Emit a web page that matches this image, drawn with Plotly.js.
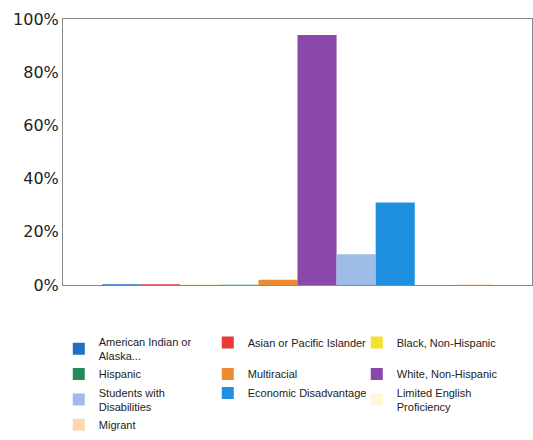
<!DOCTYPE html>
<html>
<head>
<meta charset="utf-8">
<script src="https://cdn.plot.ly/plotly-3.0.1.min.js"></script>
<style>html,body{margin:0;padding:0;background:#fff;}</style>
</head>
<body>
<div id="chart" style="width:533px;height:440px;"></div>
<script>
const groups = [
  "American Indian or<br>Alaska...",
  "Asian or Pacific Islander",
  "Black, Non-Hispanic",
  "Hispanic",
  "Multiracial",
  "White, Non-Hispanic",
  "Students with<br>Disabilities",
  "Economic Disadvantage",
  "Limited English<br>Proficiency",
  "Migrant"
];
const values = [0.3, 0.3, 0.1, 0.1, 2.0, 94.0, 11.6, 31.0, 0, 0.2];
const colors = ["#1f6fc4", "#e8383a", "#f4e030", "#1f8a5c", "#f08a30", "#8a48a8", "#9fbce8", "#1f90e0", "#fff8d8", "#fbd8b4"];
const category = ["All"];
const yTicks = [0, 20, 40, 60, 80, 100];
const yTickText = ["0%", "20%", "40%", "60%", "80%", "100%"];

const traces = groups.map((g, i) => ({
  type: "bar",
  name: g,
  x: category,
  y: [values[i]],
  marker: {color: colors[i]},
  hoverinfo: "skip"
}));

const layout = {
  width: 533,
  height: 440,
  margin: {l: 63, r: 1, t: 19, b: 154},
  paper_bgcolor: "#fff",
  plot_bgcolor: "#fff",
  barmode: "group",
  bargap: 1/6,
  bargroupgap: 0,
  font: {family: "DejaVu Sans, Verdana, sans-serif", color: "#222"},
  xaxis: {
    showticklabels: false,
    showline: true, mirror: true, linecolor: "#888", linewidth: 1,
    ticks: "", showgrid: false, zeroline: false
  },
  yaxis: {
    range: [0, 100],
    tickvals: yTicks, ticktext: yTickText,
    tickfont: {size: 16, color: "#222"},
    showline: true, mirror: true, linecolor: "#888", linewidth: 1,
    ticks: "", ticklen: 0, showgrid: false, zeroline: false
  },
  showlegend: true,
  legend: {
    orientation: "h",
    x: -0.009, xanchor: "left",
    y: -0.16, yanchor: "top",
    entrywidth: 104, entrywidthmode: "pixels",
    font: {family: "Liberation Sans, Arial, sans-serif", size: 11, color: "#222"},
    traceorder: "normal",
    tracegroupgap: 0
  }
};

Plotly.newPlot("chart", traces, layout, {staticPlot: true, displayModeBar: false});
</script>
</body>
</html>
